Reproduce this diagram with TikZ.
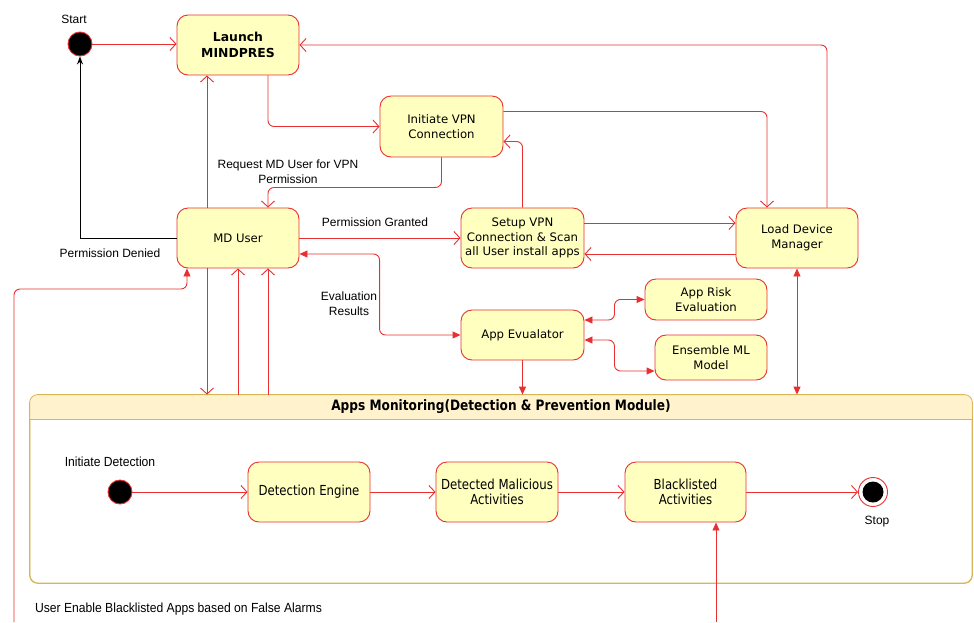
\documentclass[tikz,border=0pt]{standalone}
\usepackage{fontspec}
\setmainfont{DejaVu Sans}
\newfontfamily\labelfont{Liberation Sans}
\newfontfamily\narrowfont[FakeStretch=0.85]{DejaVu Sans}
\newfontfamily\narrowlabel[FakeStretch=0.92]{Liberation Sans}
\usetikzlibrary{arrows.meta}

\definecolor{edge}{RGB}{232,48,48}
\definecolor{statefill}{RGB}{255,255,192}
\definecolor{lanefill}{RGB}{255,242,204}
\definecolor{lanestroke}{RGB}{214,182,86}

\tikzset{
  state/.style={draw=edge, fill=statefill, rounded corners=11pt, line width=0.9pt,
    align=center, inner sep=2pt, font=\fontsize{11.7}{14.5}\selectfont},
  substate/.style={state, font=\narrowfont\fontsize{13.8}{15.5}\selectfont},
  startdot/.style={circle, draw=edge, fill=black, minimum size=24pt, inner sep=0pt, line width=0.9pt},
  flow/.style={draw=edge, line width=0.9pt, rounded corners=6pt},
  openhead/.style={-{Straight Barb[length=6pt,width=13pt]}},
  fillhead/.style={-{Triangle[length=8pt,width=7pt]}},
  fillboth/.style={{Triangle[length=8pt,width=7pt]}-{Triangle[length=8pt,width=7pt]}},
  denied/.style={draw=black, line width=0.9pt, -{Stealth[length=8pt,width=6pt]}},
  lbl/.style={font=\labelfont\fontsize{12}{15}\selectfont, align=center, inner sep=0pt},
  narrowlbl/.style={font=\narrowlabel\fontsize{13.2}{15}\selectfont, inner sep=0pt},
}

\begin{document}
\begin{tikzpicture}[x=1pt,y=-1pt]
\useasboundingbox (0,0) rectangle (974,622);

% upper states
\node[startdot] (start) at (80,44) {};
\node[state, minimum width=122pt, minimum height=60pt,
      font=\fontsize{12.4}{15.5}\selectfont\bfseries] (launch) at (238,45) {Launch\\MINDPRES};
\node[state, minimum width=123pt, minimum height=61pt] (ivpn) at (441.5,126.5) {Initiate VPN\\Connection};
\node[state, minimum width=122pt, minimum height=60pt] (mduser) at (238,238) {MD User};
\node[state, minimum width=123pt, minimum height=60pt] (setup) at (522.5,238)
  {Setup VPN\\Connection \& Scan\\all User install apps};
\node[state, minimum width=122pt, minimum height=60pt] (ldm) at (797,238) {Load Device\\Manager};
\node[state, minimum width=123pt, minimum height=50pt] (eval) at (522.5,335) {App Evualator};
\node[state, minimum width=122pt, minimum height=41pt] (risk) at (706,299.5) {App Risk\\Evaluation};
\node[state, minimum width=112pt, minimum height=45pt] (ensemble) at (711,357.5) {Ensemble ML\\Model};

% monitoring module container
\node[draw=lanestroke, rounded corners=8pt, minimum width=942pt, minimum height=188pt,
      line width=0.8pt, inner sep=0pt] (apps) at (501,489) {};
\begin{scope}
  \clip[rounded corners=8pt] (apps.north west) rectangle (apps.south east);
  \fill[lanefill] (apps.north west) rectangle ([yshift=-25pt]apps.north east);
\end{scope}
\draw[lanestroke, line width=0.8pt, rounded corners=8pt] (apps.north west) rectangle (apps.south east);
\draw[lanestroke, line width=0.8pt] ([yshift=-25pt]apps.north west) -- ([yshift=-25pt]apps.north east);
\node[font=\narrowfont\bfseries\fontsize{14.3}{16}\selectfont] (appstitle) at ([yshift=-12.5pt]apps.north)
  {Apps Monitoring(Detection \& Prevention Module)};

% states inside the module
\node[startdot] (init2) at (120,492) {};
\node[substate, minimum width=122pt, minimum height=60pt] (deteng) at (309,492) {Detection Engine};
\node[substate, minimum width=122pt, minimum height=60pt] (detmal) at (497,492) {Detected Malicious\\Activities};
\node[substate, minimum width=121pt, minimum height=60pt] (black) at (685.5,492) {Blacklisted\\Activities};
\node[circle, draw=edge, fill=white, line width=0.9pt, minimum size=29pt, inner sep=0pt] (stop) at (873,492) {};
\node[circle, fill=black, minimum size=21pt, inner sep=0pt] (stopcore) at (stop) {};

% helper points on node borders
\coordinate (ldmR) at ([xshift=30pt]ldm.north);
\coordinate (ldmL) at ([xshift=-30pt]ldm.north);
\coordinate (lnR) at ([xshift=30pt]launch.south);
\coordinate (lnL) at ([xshift=-31pt]launch.south);
\coordinate (ivE) at ([yshift=15pt]ivpn.east);
\coordinate (ivE2) at ([yshift=-15pt]ivpn.east);
\coordinate (mdR) at ([xshift=30pt]mduser.north);
\coordinate (mdL) at ([xshift=-31pt]mduser.north);
\coordinate (mb0) at ([xshift=-51pt]mduser.south);
\coordinate (mb1) at ([xshift=-31pt]mduser.south);
\coordinate (mb2) at (mduser.south);
\coordinate (mb3) at ([xshift=30pt]mduser.south);
\coordinate (fa) at (14,622);
\coordinate (fb) at (716,622);

% connectors
\draw[flow, openhead] (start) -- (launch.west |- start);
\draw[flow, openhead] (ldmR) |- (launch.east);
\draw[flow, openhead] (lnR) |- (ivpn.west);
\draw[flow, openhead] (ivE) -| (ldmL);
\draw[flow, openhead] (ivpn.south) -- ++(0,30) -| (mdR);
\draw[flow, openhead] (mdL) -- (lnL);
\draw[denied] (mduser.west) -| (start.south);
\draw[flow, openhead] (mduser.east) -- (setup.west);
\draw[flow, openhead] (setup.north) |- (ivE2);
\draw[flow, openhead] ([yshift=15pt]setup.east) -- ([yshift=15pt]ldm.west);
\draw[flow, openhead] ([yshift=-16pt]ldm.west) -- ([yshift=-16pt]setup.east);
\draw[flow, fillboth] (eval.west) -- ++(-81,0) |- ([yshift=-16pt]mduser.east);
\draw[flow, fillboth] ([yshift=15pt]eval.east) -- ++(30,0) |- (risk.west);
\draw[flow, fillboth] ([yshift=-5pt]eval.east) -- ++(30,0) |- ([yshift=-13.5pt]ensemble.west);
\draw[flow, fillhead] (eval.south) -- (eval.south |- apps.north);
\draw[flow, fillboth] (ldm.south) -- (ldm.south |- apps.north);
\draw[flow, openhead] (mb1) -- (mb1 |- apps.north);
\draw[flow, openhead] (mb2 |- apps.north) -- (mb2);
\draw[flow, openhead] (mb3 |- apps.north) -- (mb3);
\draw[flow, fillhead] (fa) -- ++(0,-333) -| (mb0);
\draw[flow, fillhead] (fb) -- (fb |- black.south);
\draw[flow, openhead] (init2) -- (deteng);
\draw[flow, openhead] (deteng) -- (detmal);
\draw[flow, openhead] (detmal) -- (black);
\draw[flow, openhead] (black) -- (stop);

% labels
\node[lbl] (startlbl) at (74,19) {Start};
\node[lbl] (deniedlbl) at (110,253) {Permission Denied};
\node[lbl] (grantedlbl) at (375,222) {Permission Granted};
\node[lbl] (requestlbl) at (288,172) {Request MD User for VPN\\Permission};
\node[lbl] (resultslbl) at (349,304) {Evaluation\\Results};
\node[narrowlbl] (detectlbl) at (110,462) {Initiate Detection};
\node[lbl] (stoplbl) at (877,522) {Stop};
\node[narrowlbl] (falselbl) at (178.5,609) {User Enable Blacklisted Apps based on False Alarms};
\end{tikzpicture}
\end{document}
